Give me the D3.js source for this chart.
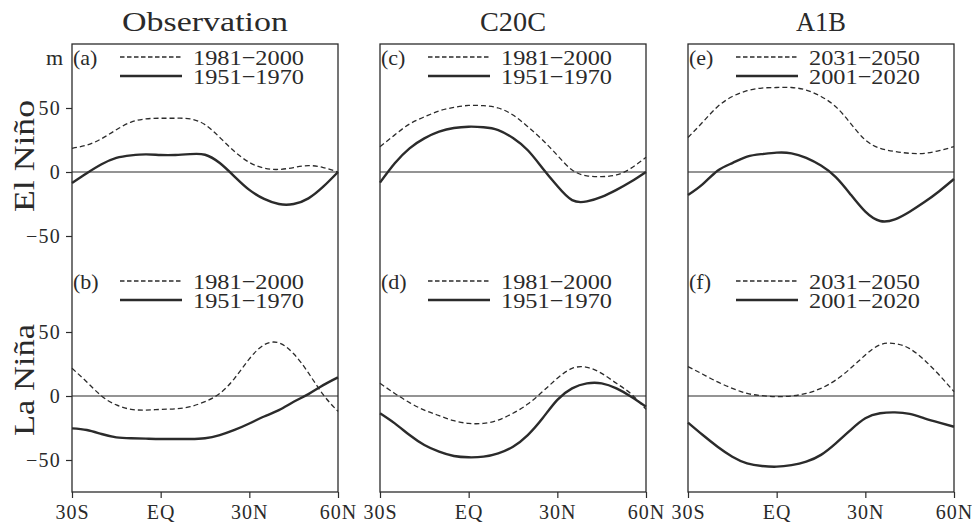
<!DOCTYPE html>
<html>
<head>
<meta charset="utf-8">
<script src="https://cdn.jsdelivr.net/npm/d3@7"></script>
<style>
  html, body { margin: 0; padding: 0; background: #fff; }
  svg text { font-family: "Liberation Serif", "DejaVu Serif", serif; fill: #2a2a2a; }
</style>
</head>
<body>
<svg id="chart" width="972" height="522"></svg>
<script>
// ---------- data ----------
const latitudes = [-30, -25, -20, -15, -10, -5, 0, 5, 10, 15, 20, 25, 30, 35, 40, 45, 50, 55, 60];
const columnTitles = ["Observation", "C20C", "A1B"];
const rowTitles = ["El Niño", "La Niña"];
const panelLabels = ["(a)", "(b)", "(c)", "(d)", "(e)", "(f)"];
const legendLate = ["1981−2000", "1981−2000", "2031−2050"];
const legendEarly = ["1951−1970", "1951−1970", "2001−2020"];
const xTickValues = [-30, 0, 30, 60];
const xTickLabels = ["30S", "EQ", "30N", "60N"];
const yTickValues = [-50, 0, 50];

// (a) Observation, El Niño
const obsElNinoLate  = [18.5, 21, 26, 33, 39, 41.5, 42, 42, 41.5, 37, 27, 16, 7.5, 3, 2, 3.5, 5, 3.5, 0];
const obsElNinoEarly = [-8.6, -1, 6, 11, 13, 13.8, 13.3, 13.3, 14, 13.5, 7, -3.6, -14, -21, -25, -25, -20.6, -11.5, 0];
// (b) Observation, La Niña
const obsLaNinaLate  = [21.6, 11, 0, -7, -10.4, -11, -10.5, -10, -8.3, -4.4, 2, 13.8, 29, 40, 41.5, 33, 18, 1, -12];
const obsLaNinaEarly = [-25.3, -26.6, -29.7, -32.3, -33, -33.3, -33.6, -33.6, -33.6, -33, -30.5, -26.5, -21.5, -16, -11, -4.5, 1.5, 8.5, 14.6];
// (c) C20C, El Niño
const c20cElNinoLate  = [19.8, 29, 37.5, 43, 47.7, 50.5, 52, 51.8, 50, 44.5, 35.4, 25, 13, 1.6, -3, -3.6, -2.3, 3, 11.5];
const c20cElNinoEarly = [-8.3, 6.8, 18.5, 26.3, 31.5, 34.4, 35.4, 35, 32.8, 26.5, 17, 3, -11, -22, -23, -19.5, -14, -7.5, 0];
// (d) C20C, La Niña
const c20cLaNinaLate  = [9.9, 2, -5.2, -11, -15.4, -19.3, -21.4, -21.4, -18.8, -13.5, -6.3, 3.4, 13.8, 21.6, 22.4, 17.7, 9.9, 1.6, -10.4];
const c20cLaNinaEarly = [-13.5, -21.4, -30.5, -38.3, -43.5, -46.9, -47.9, -47.4, -44.8, -39.6, -30.5, -17.4, -3, 6, 9.9, 9.9, 6, -0.5, -8.3];
// (e) A1B, El Niño
const a1bElNinoLate  = [27, 39, 51, 59, 63.5, 65.6, 66, 66, 64, 59, 51, 38, 25, 18.5, 16, 14.6, 14.6, 16.7, 19.8];
const a1bElNinoEarly = [-18, -9.5, 1, 7, 12, 14, 15.1, 14.6, 11, 5, -4, -17.5, -31, -38.3, -37, -31, -23.5, -15, -5.5];
// (f) A1B, La Niña
const a1bLaNinaLate  = [23, 17, 11, 6, 2, 0.3, -0.5, 0, 2, 6, 12.5, 21.6, 32, 40, 41, 37, 28, 16.4, 3.4];
const a1bLaNinaEarly = [-20.8, -30.5, -39.6, -47.4, -52.6, -54.7, -55.2, -54, -51.3, -46, -37, -26.6, -17.4, -13.5, -12.8, -14, -17.4, -20.8, -24];

const lateSeries  = [[obsElNinoLate, obsLaNinaLate], [c20cElNinoLate, c20cLaNinaLate], [a1bElNinoLate, a1bLaNinaLate]];
const earlySeries = [[obsElNinoEarly, obsLaNinaEarly], [c20cElNinoEarly, c20cLaNinaEarly], [a1bElNinoEarly, a1bLaNinaEarly]];

// ---------- layout ----------
const colLeft = [72, 380, 688];
const panelW = 266;
const topY = 44;
const panelH = 224;
const ink = "#2b2b2b";

const svg = d3.select("#chart");
svg.append("rect").attr("width", 972).attr("height", 522).attr("fill", "#fff");

const titleLengths = [166, 66, 50];

columnTitles.forEach((title, c) => {
  const left = colLeft[c];
  const x = d3.scaleLinear().domain([-30, 60]).range([left, left + panelW]);

  // title
  svg.append("text")
    .attr("x", left + panelW / 2).attr("y", 31)
    .attr("text-anchor", "middle")
    .attr("font-size", 27)
    .attr("textLength", titleLengths[c]).attr("lengthAdjust", "spacingAndGlyphs")
    .text(title);

  for (let r = 0; r < 2; r++) {
    const top = topY + r * panelH;
    const y = d3.scaleLinear().domain([-75, 100]).range([top + panelH, top]);
    const g = svg.append("g");

    // zero line
    g.append("line")
      .attr("x1", x(-30)).attr("x2", x(60))
      .attr("y1", y(0)).attr("y2", y(0))
      .attr("stroke", ink).attr("stroke-width", 1.2);

    const line = d3.line()
      .x((d, i) => x(latitudes[i]))
      .y(d => y(d))
      .curve(d3.curveNatural);

    g.append("path").datum(lateSeries[c][r])
      .attr("d", line).attr("fill", "none")
      .attr("stroke", ink).attr("stroke-width", 1.3)
      .attr("stroke-dasharray", "5,3");

    g.append("path").datum(earlySeries[c][r])
      .attr("d", line).attr("fill", "none")
      .attr("stroke", ink).attr("stroke-width", 2.4);

    // panel label
    g.append("text")
      .attr("x", left + 1).attr("y", top + 21)
      .attr("font-size", 22)
      .text(panelLabels[c * 2 + r]);

    // legend
    g.append("line")
      .attr("x1", left + 48).attr("x2", left + 110)
      .attr("y1", top + 13).attr("y2", top + 13)
      .attr("stroke", ink).attr("stroke-width", 1.3)
      .attr("stroke-dasharray", "4.5,2.5");
    g.append("line")
      .attr("x1", left + 48).attr("x2", left + 110)
      .attr("y1", top + 32).attr("y2", top + 32)
      .attr("stroke", ink).attr("stroke-width", 2.4);
    g.append("text")
      .attr("x", left + 121).attr("y", top + 21)
      .attr("font-size", 22)
      .attr("textLength", 111).attr("lengthAdjust", "spacingAndGlyphs")
      .text(legendLate[c]);
    g.append("text")
      .attr("x", left + 121).attr("y", top + 39.5)
      .attr("font-size", 22)
      .attr("textLength", 111).attr("lengthAdjust", "spacingAndGlyphs")
      .text(legendEarly[c]);

    // y axis on first column
    if (c === 0) {
      const ax = svg.append("g")
        .attr("transform", `translate(${left},0)`)
        .call(d3.axisLeft(y).tickValues(yTickValues).tickSize(6).tickPadding(5));
      ax.select(".domain").remove();
      ax.selectAll(".tick line").attr("stroke", ink).attr("stroke-width", 1.2);
      ax.selectAll(".tick text")
        .attr("font-family", "Liberation Serif").attr("font-size", 20)
        .attr("letter-spacing", 1.2)
        .attr("fill", "#2a2a2a");

      svg.append("text")
        .attr("transform", `translate(33.5,${top + panelH / 2}) rotate(-90)`)
        .attr("text-anchor", "middle")
        .attr("font-size", 30)
        .attr("textLength", 112).attr("lengthAdjust", "spacingAndGlyphs")
        .text(rowTitles[r]);
    }
  }

  // "m" unit
  if (c === 0) {
    svg.append("text")
      .attr("x", 63).attr("y", topY + 21)
      .attr("text-anchor", "end")
      .attr("font-size", 22)
      .text("m");
  }

  // x axis
  const yBottom = topY + 2 * panelH;
  const xa = svg.append("g")
    .attr("transform", `translate(0,${yBottom})`)
    .call(d3.axisBottom(x).tickValues(xTickValues)
      .tickFormat((d, i) => xTickLabels[i]).tickSize(6).tickPadding(7));
  xa.select(".domain").remove();
  xa.selectAll(".tick line").attr("stroke", ink).attr("stroke-width", 1.2);
  xa.selectAll(".tick text")
    .attr("font-family", "Liberation Serif").attr("font-size", 20)
    .attr("letter-spacing", 1)
    .attr("fill", "#2a2a2a");

  // frame
  svg.append("rect")
    .attr("x", left).attr("y", topY)
    .attr("width", panelW).attr("height", 2 * panelH)
    .attr("fill", "none").attr("stroke", ink).attr("stroke-width", 1.3);
});
</script>
</body>
</html>
